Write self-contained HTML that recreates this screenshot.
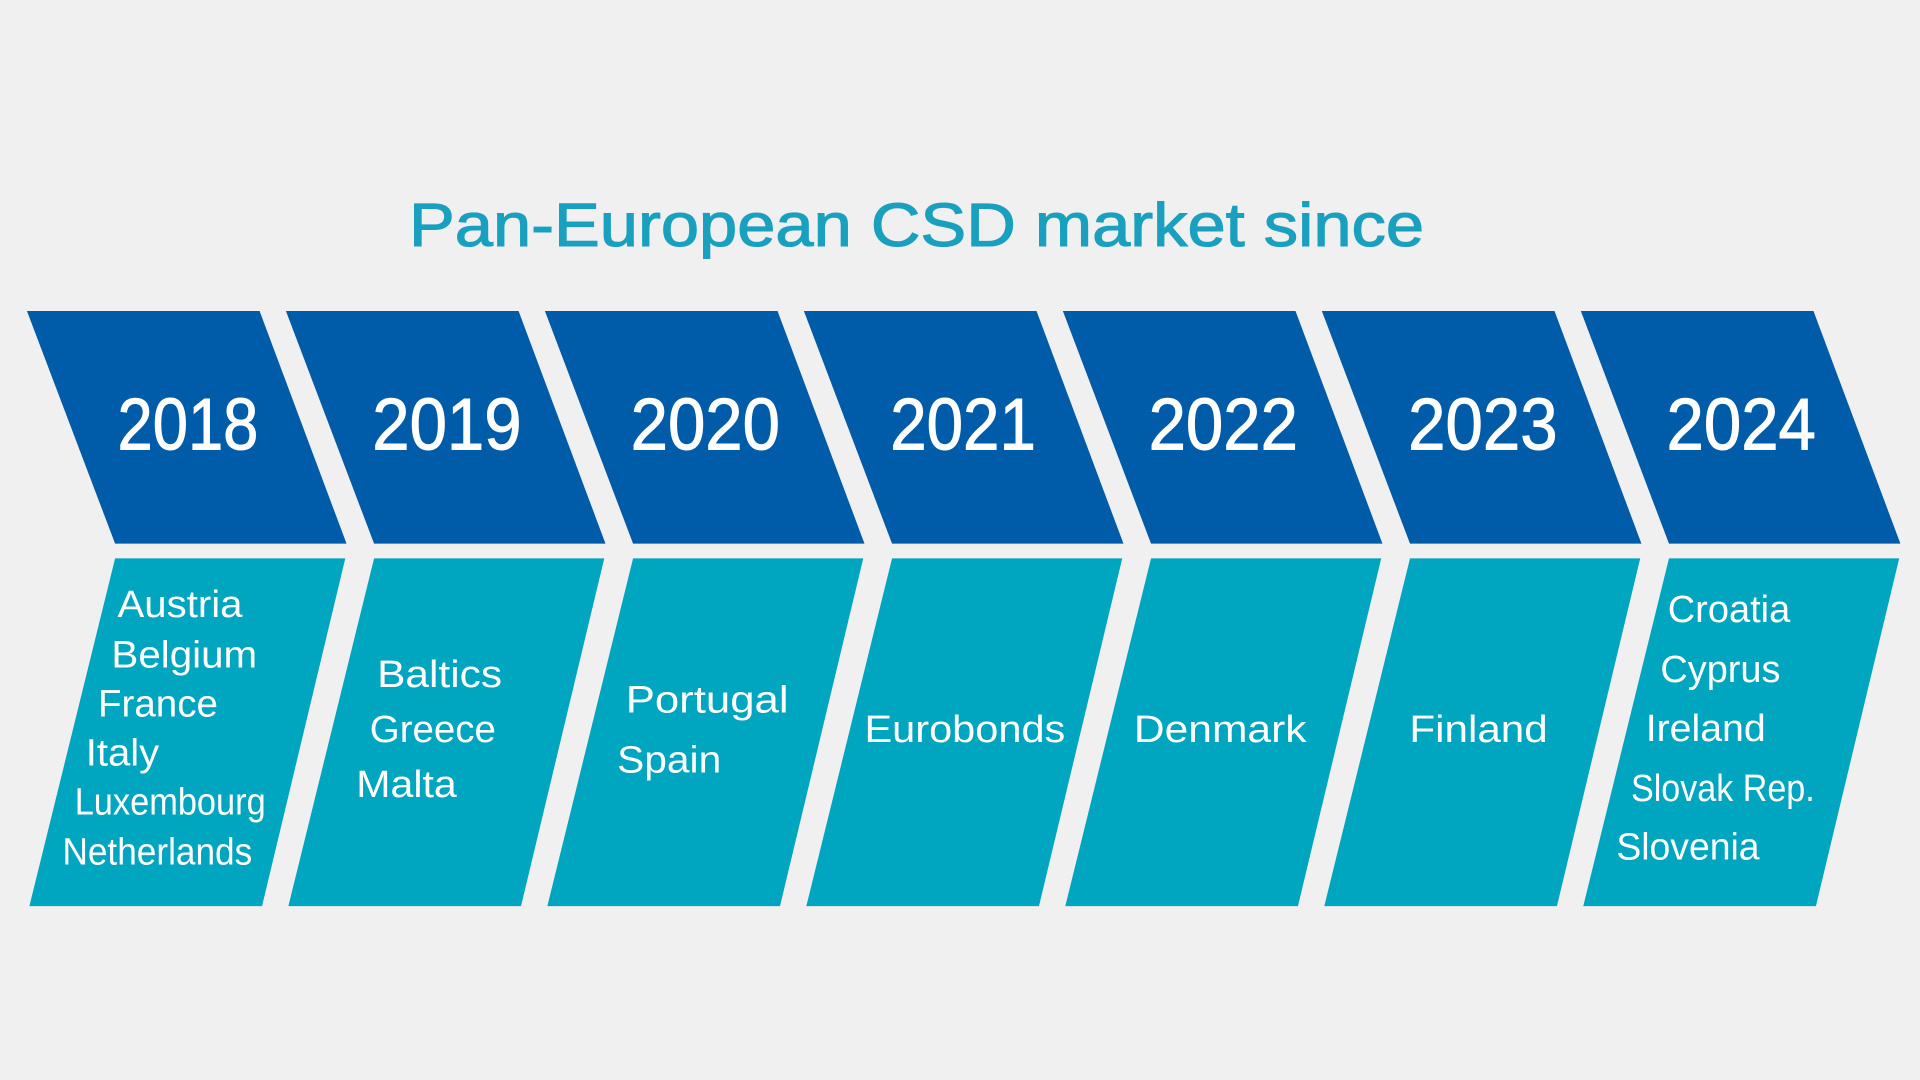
<!DOCTYPE html>
<html><head><meta charset="utf-8"><style>
html,body{margin:0;padding:0;background:#f0f0f0;}
svg{display:block;}
text{font-family:"Liberation Sans",sans-serif;fill:#fff;}
.c{font-size:31px;}
</style></head><body>
<svg width="1920" height="1080" viewBox="0 0 1568 882" preserveAspectRatio="none">
<rect width="1568" height="882" fill="#f0f0f0"/>
<text x="334" y="201" style="fill:#1aa0bf;stroke:#1aa0bf;stroke-width:0.9;font-size:50px" textLength="829" lengthAdjust="spacingAndGlyphs">Pan-European CSD market since</text>
<g fill="#005ba8">
<polygon points="22,254 212,254 283,444 94,444"/>
<polygon points="233.5,254 423.5,254 494.5,444 305.5,444"/>
<polygon points="445,254 635,254 706,444 517,444"/>
<polygon points="656.5,254 846.5,254 917.5,444 728.5,444"/>
<polygon points="868,254 1058,254 1129,444 940,444"/>
<polygon points="1079.5,254 1269.5,254 1340.5,444 1151.5,444"/>
<polygon points="1291,254 1481,254 1552,444 1363,444"/>
</g>
<g fill="#00a5c0">
<polygon points="94,456 282,456 214,740 24,740"/>
<polygon points="305.5,456 493.5,456 425.5,740 235.5,740"/>
<polygon points="517,456 705,456 637,740 447,740"/>
<polygon points="728.5,456 916.5,456 848.5,740 658.5,740"/>
<polygon points="940,456 1128,456 1060,740 870,740"/>
<polygon points="1151.5,456 1339.5,456 1271.5,740 1081.5,740"/>
<polygon points="1363,456 1551,456 1483,740 1293,740"/>
</g>
<g style="font-size:60px;stroke:#fff;stroke-width:0.8">
<text x="96" y="367" textLength="115" lengthAdjust="spacingAndGlyphs">2018</text>
<text x="304" y="367" textLength="122" lengthAdjust="spacingAndGlyphs">2019</text>
<text x="515" y="367" textLength="122" lengthAdjust="spacingAndGlyphs">2020</text>
<text x="727" y="367" textLength="119" lengthAdjust="spacingAndGlyphs">2021</text>
<text x="938" y="367" textLength="122" lengthAdjust="spacingAndGlyphs">2022</text>
<text x="1150" y="367" textLength="122" lengthAdjust="spacingAndGlyphs">2023</text>
<text x="1361" y="367" textLength="122" lengthAdjust="spacingAndGlyphs">2024</text>
</g>
<g class="c">
<text x="96" y="504" textLength="102" lengthAdjust="spacingAndGlyphs">Austria</text>
<text x="91" y="545" textLength="119" lengthAdjust="spacingAndGlyphs">Belgium</text>
<text x="80" y="585" textLength="98" lengthAdjust="spacingAndGlyphs">France</text>
<text x="70" y="625" textLength="60" lengthAdjust="spacingAndGlyphs">Italy</text>
<text x="61" y="665" textLength="156" lengthAdjust="spacingAndGlyphs">Luxembourg</text>
<text x="51" y="706" textLength="155" lengthAdjust="spacingAndGlyphs">Netherlands</text>
<text x="308" y="561" textLength="102" lengthAdjust="spacingAndGlyphs">Baltics</text>
<text x="302" y="606" textLength="103" lengthAdjust="spacingAndGlyphs">Greece</text>
<text x="291" y="651" textLength="82" lengthAdjust="spacingAndGlyphs">Malta</text>
<text x="511" y="582" textLength="133" lengthAdjust="spacingAndGlyphs">Portugal</text>
<text x="504" y="631" textLength="85" lengthAdjust="spacingAndGlyphs">Spain</text>
<text x="706" y="606" textLength="164" lengthAdjust="spacingAndGlyphs">Eurobonds</text>
<text x="926" y="606" textLength="141" lengthAdjust="spacingAndGlyphs">Denmark</text>
<text x="1151" y="606" textLength="113" lengthAdjust="spacingAndGlyphs">Finland</text>
<text x="1362" y="508" textLength="100" lengthAdjust="spacingAndGlyphs">Croatia</text>
<text x="1356" y="557" textLength="98" lengthAdjust="spacingAndGlyphs">Cyprus</text>
<text x="1344" y="605" textLength="98" lengthAdjust="spacingAndGlyphs">Ireland</text>
<text x="1332" y="654" textLength="150" lengthAdjust="spacingAndGlyphs">Slovak Rep.</text>
<text x="1320" y="702" textLength="117" lengthAdjust="spacingAndGlyphs">Slovenia</text>
</g>
</svg>
</body></html>
